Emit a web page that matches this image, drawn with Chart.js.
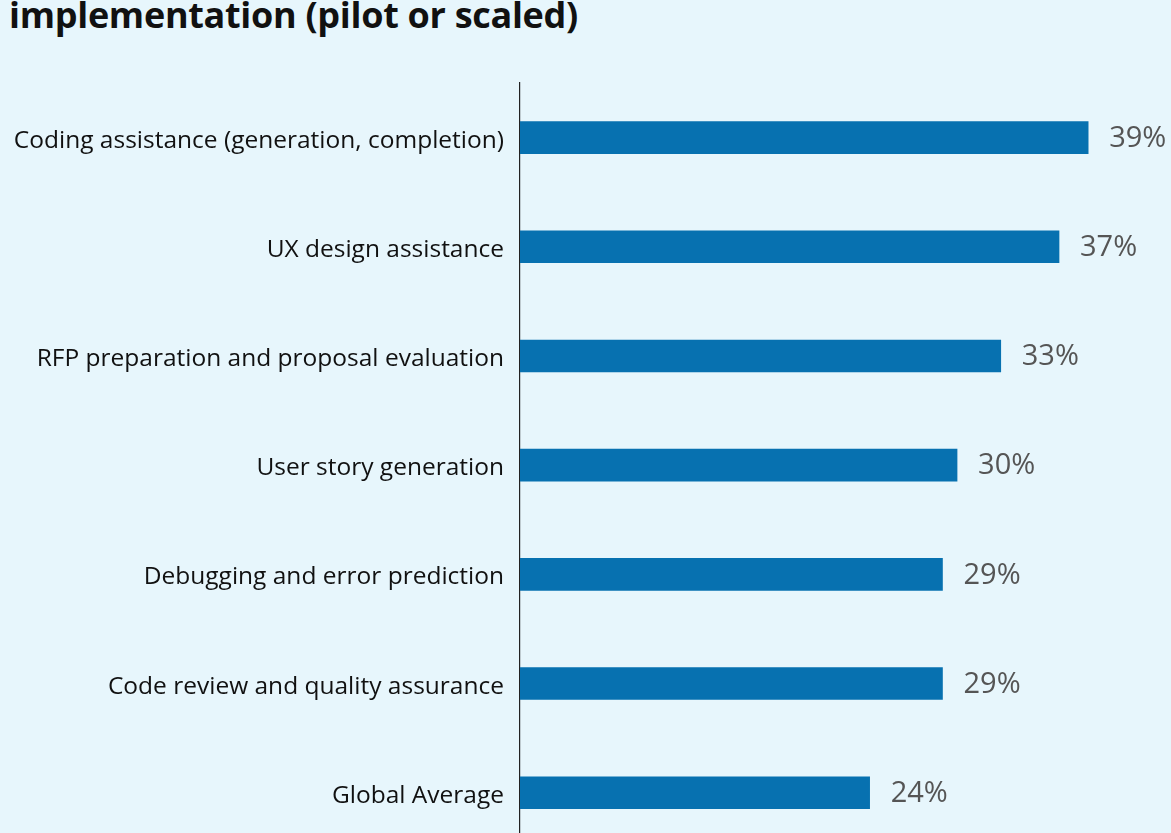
<!DOCTYPE html>
<html>
<head>
<meta charset="utf-8">
<script src="https://cdn.jsdelivr.net/npm/chart.js@4/dist/chart.umd.min.js"></script>
<style>
  html, body { margin: 0; padding: 0; width: 1171px; height: 833px; overflow: hidden; background: #e7f6fc; }
  #title { position: absolute; left: 9px; top: -10px; font-family: "Open Sans", sans-serif; font-weight: 700; font-size: 36px; color: #111; white-space: nowrap; letter-spacing: -0.3px; }
  #wrap { position: absolute; left: 0; top: 0; width: 1171px; height: 878px; }
</style>
</head>
<body>
<div id="title">implementation (pilot or scaled)</div>
<div id="wrap"><canvas id="c" width="1171" height="878"></canvas></div>
<script>
const categories = [
  "Coding assistance (generation, completion)",
  "UX design assistance",
  "RFP preparation and proposal evaluation",
  "User story generation",
  "Debugging and error prediction",
  "Code review and quality assurance",
  "Global Average"
];
const values = [39, 37, 33, 30, 29, 29, 24];
const valueLabels = ["39%", "37%", "33%", "30%", "29%", "29%", "24%"];

const valueLabelPlugin = {
  id: 'valueLabels',
  afterDatasetsDraw(chart) {
    const ctx = chart.ctx;
    const meta = chart.getDatasetMeta(0);
    ctx.save();
    ctx.font = '29px "Open Sans", sans-serif';
    ctx.fillStyle = '#555555';
    ctx.textAlign = 'left';
    ctx.textBaseline = 'middle';
    meta.data.forEach((bar, i) => {
      ctx.fillText(valueLabels[i], bar.x + 21, bar.y + 1);
    });
    ctx.restore();
  }
};

new Chart(document.getElementById('c'), {
  type: 'bar',
  data: {
    labels: categories,
    datasets: [{
      data: values,
      backgroundColor: '#0771b0',
      barThickness: 32,
      borderWidth: 0
    }]
  },
  options: {
    indexAxis: 'y',
    responsive: false,
    animation: false,
    layout: { padding: { top: 83, right: 10, left: 0, bottom: 0 } },
    plugins: { legend: { display: false }, tooltip: { enabled: false } },
    scales: {
      x: {
        display: false,
        min: 0,
        max: 44
      },
      y: {
        afterFit(scale) { scale.width = 520; },
        grid: { display: false, drawTicks: false },
        border: { display: true, color: '#222', width: 1.2 },
        ticks: {
          color: '#111',
          padding: 16,
          labelOffset: 3,
          font: { family: '"Open Sans", sans-serif', size: 24.5 }
        }
      }
    }
  },
  plugins: [valueLabelPlugin]
});
</script>
</body>
</html>
